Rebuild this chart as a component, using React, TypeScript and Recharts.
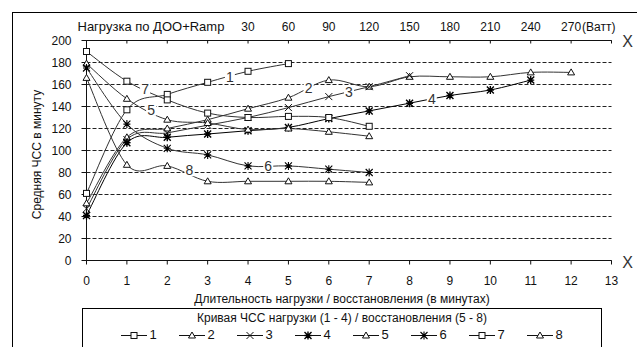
import React from 'react'
import { LineChart, Line, XAxis, YAxis, CartesianGrid, ReferenceDot, Label } from 'recharts'

// minutes of load / recovery
const MINUTES = [0, 1, 2, 3, 4, 5, 6, 7, 8, 9, 10, 11, 12]
const X_TICKS = [0, 1, 2, 3, 4, 5, 6, 7, 8, 9, 10, 11, 12, 13]
const Y_TICKS = [0, 20, 40, 60, 80, 100, 120, 140, 160, 180, 200]
// watt scale shown on the top axis, one label per minute tick
const WATT_LABELS = ['', '', '', '', '30', '60', '90', '120', '150', '180', '210', '240', '270', '']

// load curves 1 - 4
const LOAD_1 = [61, 137, 151, 162, 172, 179]
const LOAD_2 = [52, 112, 120, 128, 138, 148, 164, 158, 167, 167, 167, 171, 171]
const LOAD_3 = [47, 110, 116, 123, 130, 139, 149, 158, 168]
const LOAD_4 = [41, 107, 112, 115, 118, 121, 129, 136, 143, 150, 155, 164]
// recovery curves 5 - 8
const RECOVERY_5 = [179, 147, 128, 125, 119, 120, 117, 113]
const RECOVERY_6 = [175, 124, 102, 96, 86, 86, 83, 80]
const RECOVERY_7 = [190, 163, 146, 134, 130, 131, 130, 122]
const RECOVERY_8 = [166, 87, 86, 72, 72, 72, 72, 71]

// number written on each curve, in chart units
const CURVE_TAGS = [
  { name: '1', x: 3.55, y: 167 },
  { name: '2', x: 5.5, y: 157 },
  { name: '3', x: 6.5, y: 153 },
  { name: '4', x: 8.55, y: 147 },
  { name: '5', x: 1.6, y: 137 },
  { name: '6', x: 4.5, y: 86 },
  { name: '7', x: 1.45, y: 156 },
  { name: '8', x: 2.55, y: 82 },
]

type MarkerKind = 'square' | 'triangle' | 'cross' | 'star'

const SERIES: { key: string; name: string; values: number[]; marker: MarkerKind; heavy?: boolean }[] = [
  { key: 's1', name: '1', values: LOAD_1, marker: 'square' },
  { key: 's2', name: '2', values: LOAD_2, marker: 'triangle' },
  { key: 's3', name: '3', values: LOAD_3, marker: 'cross' },
  { key: 's4', name: '4', values: LOAD_4, marker: 'star', heavy: true },
  { key: 's5', name: '5', values: RECOVERY_5, marker: 'triangle' },
  { key: 's6', name: '6', values: RECOVERY_6, marker: 'star' },
  { key: 's7', name: '7', values: RECOVERY_7, marker: 'square' },
  { key: 's8', name: '8', values: RECOVERY_8, marker: 'triangle' },
]

const rows = MINUTES.map((m, i) => {
  const row: Record<string, number> = { minute: m }
  SERIES.forEach((s) => {
    if (i < s.values.length) row[s.key] = s.values[i]
  })
  return row
})

const FONT = '"Liberation Sans", Arial, sans-serif'
const INK = '#111'

// Excel-like smoothed line (cardinal spline, tension 0)
function smoothCurve(context: any) {
  let pts: number[][] = []
  return {
    areaStart() {},
    areaEnd() {},
    lineStart() {
      pts = []
    },
    point(x: number, y: number) {
      pts.push([+x, +y])
    },
    lineEnd() {
      if (!pts.length) return
      context.moveTo(pts[0][0], pts[0][1])
      for (let i = 0; i < pts.length - 1; i++) {
        const p0 = pts[i - 1] || pts[i]
        const p1 = pts[i]
        const p2 = pts[i + 1]
        const p3 = pts[i + 2] || p2
        context.bezierCurveTo(
          p1[0] + (p2[0] - p0[0]) / 6,
          p1[1] + (p2[1] - p0[1]) / 6,
          p2[0] - (p3[0] - p1[0]) / 6,
          p2[1] - (p3[1] - p1[1]) / 6,
          p2[0],
          p2[1]
        )
      }
    },
  }
}

function MarkerShape({ kind, cx, cy, heavy }: { kind: MarkerKind; cx: number; cy: number; heavy?: boolean }) {
  if (kind === 'square') {
    return <rect x={cx - 3} y={cy - 3} width={6} height={6} fill="#fff" stroke={INK} strokeWidth={1} />
  }
  if (kind === 'triangle') {
    return (
      <path
        d={`M${cx},${cy - 3.5}L${cx + 3.5},${cy + 2.5}L${cx - 3.5},${cy + 2.5}Z`}
        fill="#fff"
        stroke={INK}
        strokeWidth={1}
      />
    )
  }
  if (kind === 'cross') {
    return (
      <path
        d={`M${cx - 3.5},${cy - 3.5}L${cx + 3.5},${cy + 3.5}M${cx - 3.5},${cy + 3.5}L${cx + 3.5},${cy - 3.5}`}
        stroke={INK}
        strokeWidth={1}
      />
    )
  }
  return (
    <path
      d={`M${cx - 3.5},${cy - 3.5}L${cx + 3.5},${cy + 3.5}M${cx - 3.5},${cy + 3.5}L${cx + 3.5},${cy - 3.5}M${cx},${cy - 4}L${cx},${cy + 4}M${cx - 3.5},${cy}L${cx + 3.5},${cy}`}
      stroke="#000"
      strokeWidth={heavy ? 1.4 : 1.1}
    />
  )
}

function TopTick(props: any) {
  const { x, y, payload } = props
  const text = WATT_LABELS[payload.value] || ''
  if (!text) return <g />
  return (
    <g>
      <text x={x} y={y} textAnchor="middle" fontSize={12} fontFamily={FONT} fill={INK}>
        {text}
      </text>
      {payload.value === 12 && (
        <text x={x + 11} y={y} textAnchor="start" fontSize={12} fontFamily={FONT} fill={INK}>
          (Ватт)
        </text>
      )}
    </g>
  )
}

function TopAxisTitle(props: any) {
  const { x, y, width, height } = props.viewBox
  const axisY = y + height
  return (
    <g fontFamily={FONT} fill={INK}>
      <text x={x - 9} y={axisY - 10} fontSize={13}>
        Нагрузка по ДОО+Ramp
      </text>
      <text x={x + width + 16} y={axisY + 6} textAnchor="middle" fontSize={16} fill="#333">
        X
      </text>
    </g>
  )
}

function BottomAxisTitle(props: any) {
  const { x, y, width } = props.viewBox
  return (
    <g fontFamily={FONT} fill={INK}>
      <text x={x + width / 2 - 7} y={y + 42} textAnchor="middle" fontSize={12}>
        Длительность нагрузки / восстановления (в минутах)
      </text>
      <text x={x + width + 16} y={y + 7} textAnchor="middle" fontSize={16} fill="#333">
        X
      </text>
    </g>
  )
}

function LeftAxisTitle(props: any) {
  const { x, y, height } = props.viewBox
  const cx = x + 10
  const cy = y + height / 2 + 4
  return (
    <text
      x={cx}
      y={cy}
      transform={`rotate(-90 ${cx} ${cy})`}
      textAnchor="middle"
      dominantBaseline="central"
      fontSize={12}
      fontFamily={FONT}
      fill={INK}
    >
      Средняя ЧСС в минуту
    </text>
  )
}

function LegendIcon({ kind, heavy }: { kind: MarkerKind; heavy?: boolean }) {
  return (
    <svg width={26} height={10} style={{ display: 'block' }}>
      <line x1={0} y1={5.5} x2={26} y2={5.5} stroke={INK} strokeWidth={1} />
      <MarkerShape kind={kind} cx={13} cy={5.5} heavy={heavy} />
    </svg>
  )
}

export default function App() {
  return (
    <div
      style={{
        position: 'absolute',
        left: 0,
        top: 0,
        width: 637,
        height: 347,
        overflow: 'hidden',
        background: '#fff',
        fontFamily: FONT,
      }}
    >
      <div
        style={{
          position: 'absolute',
          left: 12,
          top: 12,
          width: 700,
          height: 400,
          border: '1px solid #000',
        }}
      />
      <div style={{ position: 'absolute', left: 0, top: 0 }}>
        <LineChart
          width={637}
          height={347}
          data={rows}
          margin={{ top: 10.5, right: 25.5, bottom: 56.5, left: 26.5 }}
        >
          <CartesianGrid vertical={false} stroke="#222" strokeDasharray="4 2" />
          <XAxis
            xAxisId="top"
            orientation="top"
            dataKey="minute"
            type="number"
            domain={[0, 13]}
            ticks={X_TICKS}
            interval={0}
            height={30}
            tickSize={3}
            tickMargin={7}
            tick={<TopTick />}
            tickLine={{ stroke: INK, transform: 'translate(0,3)' }}
            axisLine={{ stroke: INK }}
          >
            <Label content={<TopAxisTitle />} />
          </XAxis>
          <XAxis
            dataKey="minute"
            type="number"
            domain={[0, 13]}
            ticks={X_TICKS}
            interval={0}
            height={30}
            tickSize={4}
            tickMargin={12}
            tick={{ fontSize: 12, fontFamily: FONT, fill: INK }}
            tickLine={{ stroke: INK }}
            axisLine={{ stroke: INK }}
          >
            <Label content={<BottomAxisTitle />} />
          </XAxis>
          <YAxis
            type="number"
            domain={[0, 200]}
            ticks={Y_TICKS}
            interval={0}
            width={60}
            tickSize={5}
            tickMargin={10}
            tick={{ fontSize: 12, fontFamily: FONT, fill: INK }}
            tickLine={{ stroke: INK }}
            axisLine={{ stroke: INK }}
          >
            <Label content={<LeftAxisTitle />} />
          </YAxis>
          {SERIES.map((s) => (
            <Line
              key={s.key}
              dataKey={s.key}
              name={s.name}
              type={smoothCurve as any}
              stroke={s.heavy ? '#000' : '#333'}
              strokeWidth={1}
              isAnimationActive={false}
              connectNulls={false}
              dot={(p: any) =>
                p.cy == null || p.value == null ? (
                  <g key={p.key} />
                ) : (
                  <MarkerShape key={p.key} kind={s.marker} cx={p.cx} cy={p.cy} heavy={s.heavy} />
                )
              }
              activeDot={false}
            />
          ))}
          {CURVE_TAGS.map((t) => (
            <ReferenceDot
              key={t.name}
              x={t.x}
              y={t.y}
              r={0}
              shape={(p: any) => (
                <g>
                  <rect x={p.cx - 5} y={p.cy - 7} width={10} height={13} fill="#fff" />
                  <text
                    x={p.cx}
                    y={p.cy + 5}
                    textAnchor="middle"
                    fontSize={14}
                    fontFamily={FONT}
                    fill="#333"
                  >
                    {t.name}
                  </text>
                </g>
              )}
            />
          ))}
        </LineChart>
      </div>
      <div
        style={{
          position: 'absolute',
          left: 82,
          top: 308,
          width: 518,
          height: 60,
          border: '1px solid #000',
          background: '#fff',
          color: INK,
        }}
      >
        <div style={{ textAlign: 'center', fontSize: 12, lineHeight: '14px', marginTop: 2 }}>
          Кривая ЧСС нагрузки (1 - 4) / восстановления (5 - 8)
        </div>
        <div style={{ display: 'flex', justifyContent: 'center', marginTop: 3 }}>
          {SERIES.map((s) => (
            <div
              key={s.key}
              style={{
                width: 58,
                display: 'flex',
                alignItems: 'center',
                justifyContent: 'center',
                fontSize: 13,
                lineHeight: '14px',
              }}
            >
              <LegendIcon kind={s.marker} heavy={s.heavy} />
              <span style={{ marginLeft: 2 }}>{s.name}</span>
            </div>
          ))}
        </div>
      </div>
    </div>
  )
}
